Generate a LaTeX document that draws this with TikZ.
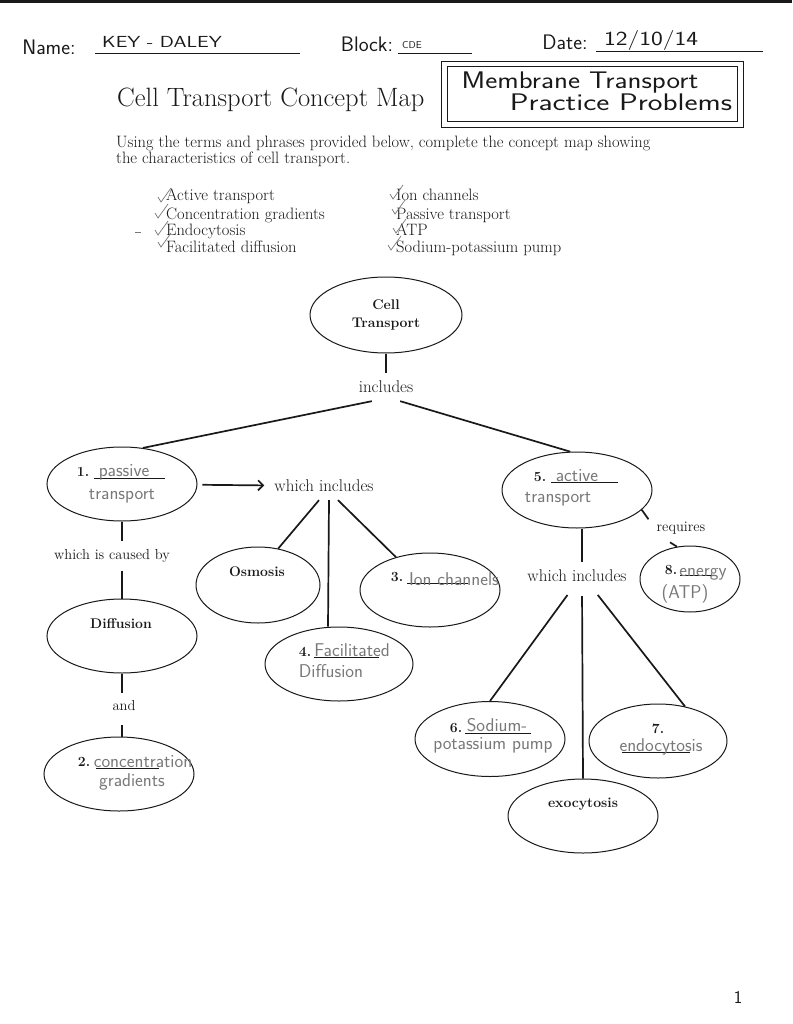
\documentclass[tikz,border=0pt]{standalone}
\usepackage{tikz}
\usetikzlibrary{positioning, arrows.meta, shapes.geometric}
\definecolor{ctpencil}{RGB}{120, 120, 120}
\definecolor{ctink}{RGB}{25, 25, 25}
\tikzset{
    ctnode/.style={ellipse, draw=ctink, line width=1pt, minimum width=150pt, minimum height=74pt, inner sep=0pt},
    ctword/.style={font=\fontsize{17}{18}\selectfont, text=ctink, inner sep=8pt},
    ctbold/.style={font=\bfseries\fontsize{14}{16}\selectfont, text=ctink, inner sep=1pt},
    ctans/.style={font=\sffamily\fontsize{18.5}{20}\selectfont, text=ctpencil, inner sep=0pt, anchor=base},
    cthand/.style={font=\sffamily\fontsize{21}{22}\selectfont, text=ctink, inner sep=0pt, anchor=base},
    ctterm/.style={font=\fontsize{16.5}{18}\selectfont, text=ctink, inner sep=0pt, anchor=base west},
    ctblank/.style={draw=ctink, line width=0.9pt},
    ctlink/.style={draw=ctink, line width=1.7pt},
    cttick/.pic={\draw[ctpencil, line width=0.7pt] (-3,-5) -- (0,0) -- (10,-14);}
}
\begin{document}
\begin{tikzpicture}[x=1pt, y=-1pt]
\useasboundingbox (0,0) rectangle (792,1024);
\fill[white] (0,0) rectangle (792,1024);
\fill[ctink] (0,0) rectangle (792,3);

% header
\node[cthand] (name) at (49,55) {Name:};
\node[cthand, font=\sffamily\fontsize{16}{18}\selectfont] (namev) at (162,48) {\scalebox{1.3}[1]{KEY - DALEY}};
\draw[ctblank] (95,53) -- (300,53);
\node[cthand] (block) at (367,52) {Block:};
\node[cthand, font=\sffamily\fontsize{10}{12}\selectfont] (blockv) at (412,49) {CDE};
\draw[ctblank] (398,53) -- (472,53);
\node[cthand] (date) at (565,50) {Date:};
\node[cthand, font=\sffamily\fontsize{20}{22}\selectfont] (datev) at (651,46) {\scalebox{1.25}[1]{12/10/14}};
\draw[ctblank] (596,51) -- (763,51);

\node[font=\fontsize{26.5}{30}\selectfont, text=ctink, inner sep=0pt, anchor=base west] (title) at (117,107) {Cell Transport Concept Map};
\draw[ctink, line width=0.9pt] (441,61) rectangle (743,127);
\draw[ctink, line width=0.9pt] (447,66) rectangle (737,121);
\node[cthand, font=\sffamily\fontsize{24}{25}\selectfont] (box1) at (580,89) {\scalebox{1.2}[1]{Membrane Transport}};
\node[cthand, font=\sffamily\fontsize{24}{25}\selectfont] (box2) at (621,111) {\scalebox{1.3}[1]{Practice Problems}};

% instructions and terms
\node[ctterm, anchor=north west, align=left, font=\fontsize{16.5}{14}\selectfont] (inst) at (116,136)
    {Using the terms and phrases provided below, complete the concept map showing\\the characteristics of cell transport.};
\node[ctterm] (t1) at (166,201) {Active transport};
\node[ctterm] (t2) at (166,219) {Concentration gradients};
\node[ctterm] (t3) at (166,236) {Endocytosis};
\node[ctterm] (t4) at (166,252) {Facilitated diffusion};
\node[ctterm] (t5) at (396,201) {Ion channels};
\node[ctterm] (t6) at (396,219) {Passive transport};
\node[ctterm] (t7) at (396,236) {ATP};
\node[ctterm] (t8) at (396,252) {Sodium-potassium pump};
\pic at (161,202) {cttick};
\pic at (158,218) {cttick};
\pic at (158,235) {cttick};
\pic at (161,247) {cttick};
\pic at (393,199) {cttick};
\pic at (395,214) {cttick};
\pic at (396,233) {cttick};
\pic at (391,250) {cttick};
\draw[ctpencil, line width=0.7pt] (135,232) -- (141,232);

% concept map
\node[ctnode, minimum width=152pt, minimum height=76pt, align=center, font=\bfseries\fontsize{14}{18}\selectfont, text=ctink] (cell) at (386,315) {Cell\\Transport};
\node[ctword] (incl) at (386,387) {includes};
\node[ctnode] (pas) at (122,484) {};
\node[ctnode, minimum height=76pt] (act) at (577,490) {};
\node[ctword] (whp) at (324,486) {which includes};
\node[ctnode, minimum width=124pt, minimum height=76pt] (osm) at (258,585) {};
\node[ctnode, minimum width=140pt] (ion) at (430,590) {};
\node[ctnode, minimum width=148pt] (fac) at (339,664) {};
\node[ctword, font=\fontsize{14.5}{16}\selectfont] (cause) at (112,556) {which is caused by};
\node[ctnode] (dif) at (122,636) {};
\node[ctword, font=\fontsize{14.5}{16}\selectfont] (and) at (124,706) {and};
\node[ctnode] (conc) at (119,774) {};
\node[ctword] (wha) at (577,576) {which includes};
\node[ctword, font=\fontsize{14.5}{16}\selectfont] (req) at (681,528) {requires};
\node[ctnode, minimum width=100pt, minimum height=66pt] (en) at (690,579) {};
\node[ctnode, minimum height=75pt] (na) at (490,739) {};
\node[ctnode, minimum width=138pt] (endo) at (658,741) {};
\node[ctnode] (exo) at (583,816) {};

\node[ctbold] (osmt) at (257,572) {Osmosis};
\node[ctbold] (dift) at (121,624) {Diffusion};
\node[ctbold] (exot) at (583,804) {exocytosis};

% connectors
\draw[ctlink] (cell) -- (incl);
\draw[ctlink] (incl.225) -- (pas.60);
\draw[ctlink] (incl.315) -- (act.100);
\draw[ctlink, -{Straight Barb[length=5pt, width=10pt]}, shorten <=5pt, shorten >=2pt] (pas) -- (whp);
\draw[ctlink] ([xshift=-5pt]whp.south) -- (osm.61);
\draw[ctlink] ([xshift=5pt]whp.south) -- ([xshift=-11pt]fac.north);
\draw[ctlink] ([xshift=14pt]whp.south) -- (ion.136);
\draw[ctlink] (pas) -- (pas |- cause.north);
\draw[ctlink] (dif |- cause.south) -- (dif);
\draw[ctlink] (dif) -- (dif |- and.north);
\draw[ctlink, shorten <=6pt] (dif |- and.south) -- (dif |- conc.north);
\draw[ctlink] ([xshift=5pt]act.south) -- ([xshift=5pt]wha.north);
\draw[ctlink, shorten <=6pt] ([xshift=-6pt]wha.south) -- (na.north);
\draw[ctlink, shorten <=6pt] ([xshift=5pt]wha.south) -- (exo.north);
\draw[ctlink, shorten <=6pt] ([xshift=17pt]wha.south) -- (endo.52);
\draw[ctlink] (act.-17) -- (req.165);
\draw[ctlink] ([xshift=-11pt]req.south) -- (en.112);

% numbered blanks and answers
\node[ctbold] (pasn) at (83,472) {1.};
\draw[ctblank] (94,478) -- (165,478);
\node[ctans] (pasa) at (124,476) {passive};
\node[ctans] (pasb) at (122,499) {transport};

\node[ctbold] (actn) at (540,477) {5.};
\draw[ctblank] (551,482) -- (618,482);
\node[ctans] (acta) at (577,481) {active};
\node[ctans] (actb) at (558,502) {transport};

\node[ctbold] (ionn) at (397,577) {3.};
\draw[ctblank] (407,583) -- (468,583);
\node[ctans] (iona) at (454,585) {Ion channels};

\node[ctbold] (facn) at (305,652) {4.};
\draw[ctblank] (314,657) -- (379,657);
\node[ctans] (faca) at (352,656) {Facilitated};
\node[ctans] (facb) at (331,677) {Diffusion};

\node[ctbold] (concn) at (84,762) {2.};
\draw[ctblank] (96,768) -- (159,768);
\node[ctans] (conca) at (143,767) {concentration};
\node[ctans] (concb) at (132,786) {gradients};

\node[ctbold] (enn) at (671,570) {8.};
\draw[ctblank] (680,575) -- (716,575);
\node[ctans] (ena) at (703,576) {energy};
\node[ctans] (enb) at (685,598) {(ATP)};

\node[ctbold] (nan) at (456,728) {6.};
\draw[ctblank] (465,733) -- (531,733);
\node[ctans] (naa) at (497,731) {Sodium-};
\node[ctans] (nab) at (493,749) {potassium pump};

\node[ctbold] (endon) at (658,729) {7.};
\draw[ctblank] (622,752) -- (690,752);
\node[ctans] (endoa) at (661,751) {endocytosis};

\node[cthand, font=\sffamily\fontsize{18}{20}\selectfont] (page) at (738,1003) {1};
\end{tikzpicture}
\end{document}
